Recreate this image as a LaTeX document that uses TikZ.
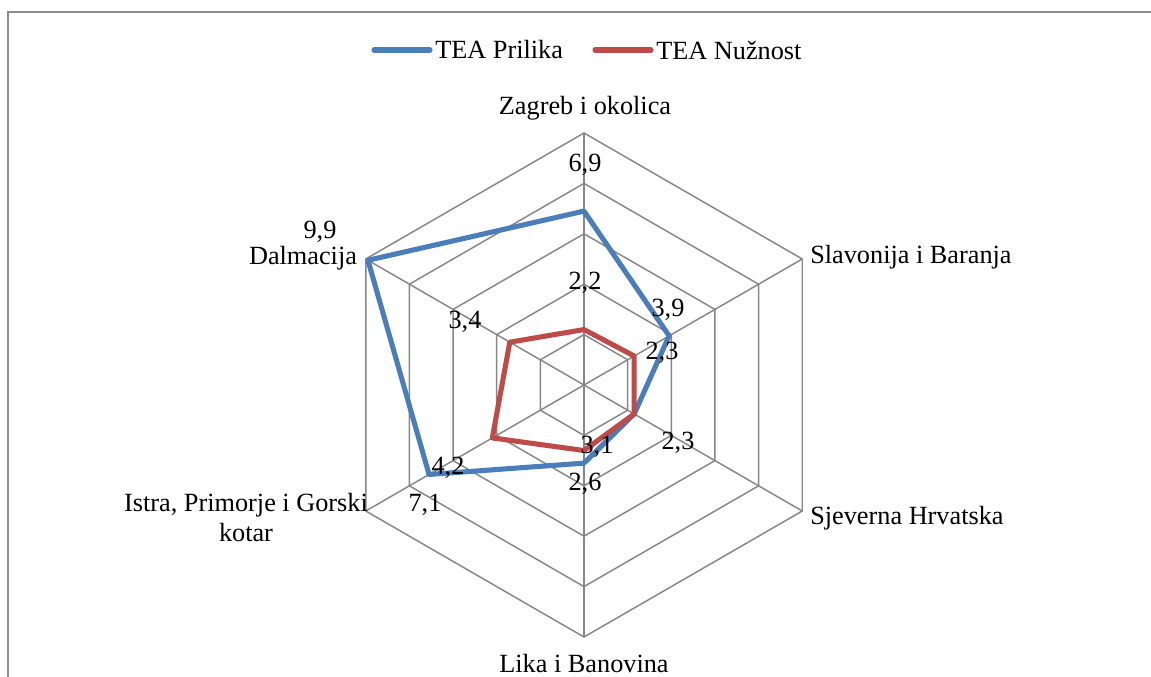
\documentclass[tikz,border=0pt]{standalone}
\usepackage{fontspec}
\setmainfont{Liberation Serif}
\definecolor{gridgray}{HTML}{878787}
\definecolor{serblue}{HTML}{4A7EBB}
\definecolor{serred}{HTML}{BE4B48}
\definecolor{framegray}{HTML}{8C8C8C}
\begin{document}
\begin{tikzpicture}[x=0.75pt,y=-0.75pt,
  lbl/.style={font=\fontsize{19.7}{22.5}\selectfont, inner sep=0pt, text=black},
  gridline/.style={draw=gridgray, line width=1.1pt},
  frameline/.style={draw=framegray, line width=1.5pt},
  serA/.style={draw=serblue, line width=3.8pt, line join=round},
  serB/.style={draw=serred, line width=3.8pt, line join=round}]
\useasboundingbox (0,0) rectangle (1151,677);
% frame
\draw[frameline] (8,677) -- (8,12) -- (1151,12);
% grid rings
\foreach \k in {1,...,5}{
  \pgfmathsetmacro\r{50.4*\k}
  \draw[gridline] (584,{385-\r}) -- ({584+0.8660*\r},{385-0.5*\r}) -- ({584+0.8660*\r},{385+0.5*\r}) -- (584,{385+\r}) -- ({584-0.8660*\r},{385+0.5*\r}) -- ({584-0.8660*\r},{385-0.5*\r}) -- cycle;
}
% spokes
\coordinate (c) at (584,385);
\foreach \a [count=\i] in {90,30,-30,-90,-150,150}{
  \coordinate (o\i) at ({584+252*cos(\a)},{385-252*sin(\a)});
  \draw[gridline] (c) -- (o\i);
}
% series points
\foreach \a/\v [count=\i] in {90/6.9,30/3.9,-30/2.3,-90/3.1,-150/7.1,150/9.9}{
  \coordinate (b\i) at ({584+25.2*\v*cos(\a)},{385-25.2*\v*sin(\a)});
}
\foreach \a/\v [count=\i] in {90/2.2,30/2.3,-30/2.3,-90/2.6,-150/4.2,150/3.4}{
  \coordinate (r\i) at ({584+25.2*\v*cos(\a)},{385-25.2*\v*sin(\a)});
}
\draw[serA] (b1) -- (b2) -- (b3) -- (b4) -- (b5) -- (b6) -- cycle;
\draw[serB] (r1) -- (r2) -- (r3) -- (r4) -- (r5) -- (r6) -- cycle;
% legend
\coordinate (la1) at (374,50); \coordinate (la2) at (430,50);
\coordinate (lb1) at (595,50); \coordinate (lb2) at (651,50);
\draw[serA, line cap=round] (la1) -- (la2);
\draw[serB, line cap=round] (lb1) -- (lb2);
\node[lbl, anchor=west] (legA) at (435,50) {TEA Prilika};
\node[lbl, anchor=west] (legB) at (656,50) {TEA Nužnost};
% category labels
\node[lbl] (catZ) at (585,108) {Zagreb i okolica};
\node[lbl, anchor=west] (catS) at (810,257) {Slavonija i Baranja};
\node[lbl, anchor=west] (catH) at (810,518) {Sjeverna Hrvatska};
\node[lbl] (catL) at (584,664) {Lika i Banovina};
\node[lbl, align=center] (catI) at (246,518) {Istra, Primorje i Gorski\\kotar};
\node[lbl] (catD) at (303,258) {Dalmacija};
% data labels
\node[lbl] (d1) at (585,165) {6,9};
\node[lbl] (d2) at (585,283) {2,2};
\node[lbl] (d3) at (668,310) {3,9};
\node[lbl] (d4) at (662,353) {2,3};
\node[lbl] (d5) at (678,443) {2,3};
\node[lbl] (d6) at (597,447) {3,1};
\node[lbl] (d7) at (585,484) {2,6};
\node[lbl] (d8) at (448,468) {4,2};
\node[lbl] (d9) at (425,505) {7,1};
\node[lbl] (d10) at (465,322) {3,4};
\node[lbl] (d11) at (320,232) {9,9};
\end{tikzpicture}
\end{document}
